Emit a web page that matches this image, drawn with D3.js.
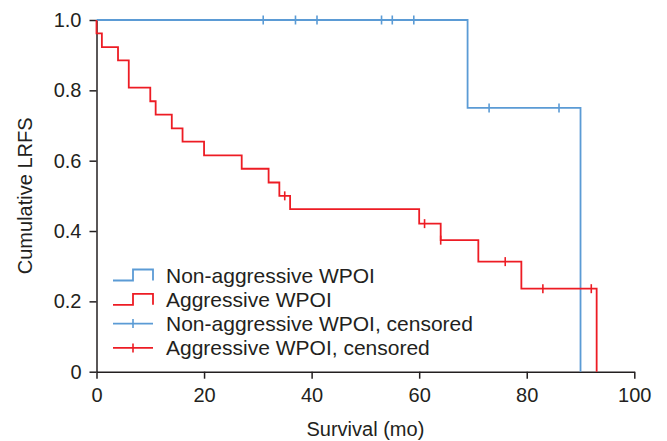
<!DOCTYPE html>
<html>
<head>
<meta charset="utf-8">
<script src="https://cdn.jsdelivr.net/npm/d3@7"></script>
<style>
	body { margin: 0; background: #fff; }
	svg { display: block; font-family: "Liberation Sans", Arial, sans-serif; }
	.axis path, .axis line { stroke: #231f20; stroke-width: 1.5; }
	.axis text { font-size: 20px; fill: #231f20; }
</style>
</head>
<body>
<svg width="667" height="441"></svg>
<script>
const WIDTH = 667;
const HEIGHT = 441;
const MARGIN = {top: 20, right: 32.7, bottom: 69.3, left: 96.5};
const BLUE = "#5b9bd5";
const RED = "#ed1c24";

// Kaplan-Meier steps: [time (mo), cumulative LRFS after the step]
const nonAggSteps = [[0, 1.0], [69, 0.75], [90, 0]];
const nonAggCensored = [31, 37, 41, 53, 55, 59, 73, 86];

const aggSteps = [
	[0, 1.0], [0, 0.962], [1, 0.923], [4, 0.885], [6, 0.808], [10, 0.769],
	[11, 0.731], [14, 0.692], [16, 0.654], [20, 0.615], [27, 0.577], [32, 0.538],
	[34, 0.5], [36, 0.462], [60, 0.421], [64, 0.374], [71, 0.313], [79, 0.236], [93, 0]
];
const aggCensored = [35, 61, 64, 76, 83, 92];

const xTicks = [0, 20, 40, 60, 80, 100];
const yTicks = [0, 0.2, 0.4, 0.6, 0.8, 1.0];
const legendLabels = ["Non-aggressive WPOI", "Aggressive WPOI", "Non-aggressive WPOI, censored", "Aggressive WPOI, censored"];

const svg = d3.select("svg");

const x = d3.scaleLinear().domain([0, 100]).range([MARGIN.left, WIDTH - MARGIN.right]);
const y = d3.scaleLinear().domain([0, 1]).range([HEIGHT - MARGIN.bottom, MARGIN.top]);

// survival value at time t for a step list (value just after t)
function survAt(steps, t) {
	let s = steps[0][1];
	steps.forEach(function(d) {
		if (d[0] <= t) s = d[1];
	});
	return s;
}

// Axes
const xAxis = d3.axisBottom(x).tickValues(xTicks).tickSize(7).tickSizeOuter(0).tickPadding(9);
const yAxis = d3.axisLeft(y).tickValues(yTicks).tickSize(7).tickSizeOuter(0).tickPadding(8)
	.tickFormat(function(d) { return d == 0 ? "0" : d3.format(".1f")(d); });

svg.append("g").attr("class", "axis")
	.attr("transform", "translate(0," + y(0) + ")")
	.call(xAxis)
	.call(g => g.selectAll("text").attr("font-family", null));
svg.append("g").attr("class", "axis")
	.attr("transform", "translate(" + x(0) + ",0)")
	.call(yAxis)
	.call(g => g.selectAll("text").attr("font-family", null));

// Curves
const line = d3.line()
	.x(function(d) { return x(d[0]); })
	.y(function(d) { return y(d[1]); })
	.curve(d3.curveStepAfter);

function drawCurve(steps, censored, color) {
	svg.append("path")
		.datum(steps)
		.attr("d", line)
		.attr("fill", "none")
		.attr("stroke", color)
		.attr("stroke-width", 1.8);
	svg.selectAll(null)
		.data(censored)
		.enter()
		.append("line")
		.attr("x1", function(d) { return x(d); })
		.attr("x2", function(d) { return x(d); })
		.attr("y1", function(d) { return y(survAt(steps, d)) - 4.5; })
		.attr("y2", function(d) { return y(survAt(steps, d)) + 4.5; })
		.attr("stroke", color)
		.attr("stroke-width", 1.6);
}

drawCurve(nonAggSteps, nonAggCensored, BLUE);
drawCurve(aggSteps, aggCensored, RED);

// Axis titles
svg.append("text")
	.attr("x", (x(0) + x(100)) / 2)
	.attr("y", 436)
	.attr("text-anchor", "middle")
	.attr("font-size", 20)
	.attr("fill", "#231f20")
	.text("Survival (mo)");
svg.append("text")
	.attr("transform", "translate(32," + (y(0) + y(1)) / 2 + ") rotate(-90)")
	.attr("text-anchor", "middle")
	.attr("font-size", 20)
	.attr("fill", "#231f20")
	.text("Cumulative LRFS");

// Legend
const legendColors = [BLUE, RED, BLUE, RED];
const legend = svg.append("g").attr("transform", "translate(113,275)");
legendLabels.forEach(function(label, i) {
	const g = legend.append("g").attr("transform", "translate(0," + i * 24.3 + ")");
	if (i < 2) {
		g.append("path")
			.attr("d", "M0,5.5H20V-5.5H40V5.5")
			.attr("fill", "none")
			.attr("stroke", legendColors[i])
			.attr("stroke-width", 1.8);
	} else {
		g.append("line").attr("x1", 0).attr("x2", 40).attr("y1", 0).attr("y2", 0)
			.attr("stroke", legendColors[i]).attr("stroke-width", 1.8);
		g.append("line").attr("x1", 20).attr("x2", 20).attr("y1", -4.5).attr("y2", 4.5)
			.attr("stroke", legendColors[i]).attr("stroke-width", 1.6);
	}
	g.append("text")
		.attr("x", 53)
		.attr("y", 7.5)
		.attr("font-size", 21)
		.attr("fill", "#231f20")
		.text(label);
});
</script>
</body>
</html>
